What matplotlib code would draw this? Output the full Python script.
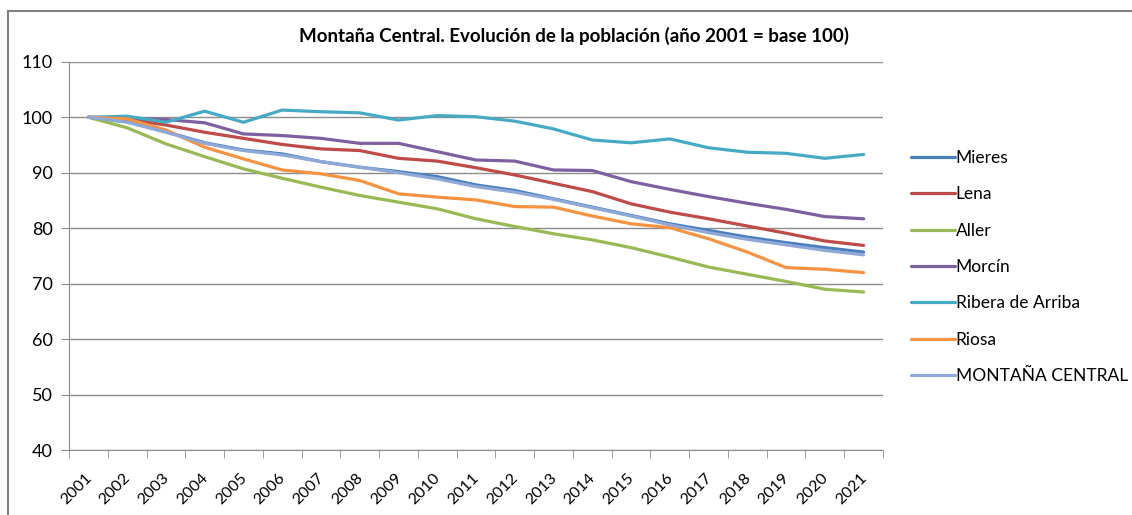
import matplotlib
matplotlib.use("Agg")
import matplotlib.pyplot as plt
import matplotlib.transforms as mtransforms
from matplotlib.ticker import MultipleLocator, FixedLocator

plt.rcParams['font.family'] = ['Lato', 'DejaVu Sans']

# Data (año 2001 = base 100)
years = [str(y) for y in range(2001, 2022)]
mieres = [100, 99.2, 97.4, 95.4, 94.1, 93.4, 92.0, 91.0, 90.2, 89.3, 87.8, 86.8,
          85.3, 83.8, 82.3, 80.8, 79.6, 78.4, 77.4, 76.5, 75.7]
lena = [100, 99.7, 98.6, 97.3, 96.2, 95.1, 94.3, 94.0, 92.6, 92.1, 90.9, 89.6,
        88.1, 86.6, 84.4, 82.9, 81.7, 80.4, 79.1, 77.7, 76.9]
aller = [100, 98.1, 95.2, 92.9, 90.7, 89.0, 87.4, 85.9, 84.7, 83.5, 81.7, 80.3,
         79.0, 77.9, 76.5, 74.8, 73.0, 71.7, 70.4, 69.0, 68.5]
morcin = [100, 99.7, 99.6, 99.0, 97.0, 96.7, 96.2, 95.3, 95.3, 93.8, 92.3, 92.1,
          90.5, 90.4, 88.4, 87.0, 85.7, 84.5, 83.4, 82.1, 81.7]
ribera = [100, 100.2, 99.1, 101.1, 99.1, 101.3, 101.0, 100.8, 99.5, 100.3, 100.1, 99.3,
          97.9, 95.9, 95.4, 96.1, 94.5, 93.7, 93.5, 92.6, 93.3]
riosa = [100, 99.7, 97.7, 94.6, 92.5, 90.5, 89.8, 88.6, 86.2, 85.6, 85.1, 83.9,
         83.8, 82.2, 80.8, 80.1, 78.1, 75.7, 72.9, 72.6, 72.0]
montana = [100, 99.1, 97.3, 95.3, 94.0, 93.2, 92.0, 91.0, 90.0, 88.9, 87.5, 86.5,
           85.2, 83.7, 82.2, 80.6, 79.2, 78.0, 77.0, 76.0, 75.2]

series = [
    ('Mieres', mieres, '#4A7EBB'),
    ('Lena', lena, '#BE4B48'),
    ('Aller', aller, '#98B954'),
    ('Morcín', morcin, '#7D60A0'),
    ('Ribera de Arriba', ribera, '#46AAC5'),
    ('Riosa', riosa, '#F69240'),
    ('MONTAÑA CENTRAL', montana, '#8EA9D8'),
]

fig = plt.figure(figsize=(11.32, 5.15), dpi=100)
ax = fig.add_axes([0.061, 0.126, 0.719, 0.754])

x = list(range(len(years)))
for name, vals, col in series:
    ax.plot(x, vals, color=col, lw=2.3, label=name, solid_capstyle='round')

ax.set_xlim(-0.5, len(years) - 0.5)
ax.set_ylim(40, 110)
ax.yaxis.set_major_locator(MultipleLocator(10))
ax.grid(axis='y', color='#8c8c8c', lw=1.0)
ax.set_axisbelow(True)

# category axis: labels at centres, tick marks between categories
ax.set_xticks(x)
ax.set_xticklabels(years, rotation=45, ha='right', va='top', rotation_mode='anchor', fontsize=11.5)
ax.tick_params(axis='x', length=0, pad=15)
offset = mtransforms.ScaledTranslation(-4 / 100, 0, fig.dpi_scale_trans)
for lab in ax.get_xticklabels():
    lab.set_transform(lab.get_transform() + offset)
ax.xaxis.set_minor_locator(FixedLocator([i - 0.5 for i in range(len(years) + 1)]))
ax.tick_params(axis='x', which='minor', length=6, color='#8c8c8c')
ax.tick_params(axis='y', length=6, color='#8c8c8c', labelsize=13, pad=6)

for s in ['top', 'right']:
    ax.spines[s].set_visible(False)
ax.spines['left'].set_color('#8c8c8c')
ax.spines['bottom'].set_color('#8c8c8c')

fig.suptitle('Montaña Central. Evolución de la población (año 2001 = base 100)',
             x=0.5075, y=0.948, fontsize=13.5, fontweight='bold')

ax.legend(loc='upper left', bbox_to_anchor=(0.799, 0.722), bbox_transform=fig.transFigure,
          frameon=False, fontsize=12.5, handlelength=2.5, handletextpad=0.05,
          labelspacing=1.17, borderaxespad=0)

# outer chart border (left and top edges visible)
fig.add_artist(plt.Line2D([0.0075, 0.0075], [0.0, 0.979], color='#808080', lw=1.5,
                          transform=fig.transFigure))
fig.add_artist(plt.Line2D([0.0075, 1.0], [0.979, 0.979], color='#808080', lw=1.5,
                          transform=fig.transFigure))

fig.savefig('out.png', dpi=100)
